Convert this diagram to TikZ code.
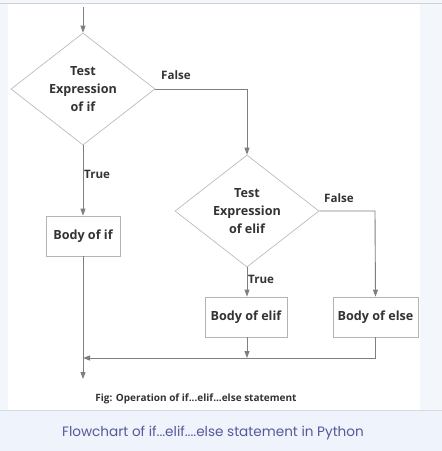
\documentclass[tikz,border=0pt]{standalone}
\usepackage{fontspec}
\setmainfont{Open Sans}
\newfontfamily\capfont{Poppins}
\usetikzlibrary{arrows.meta,shapes.geometric}
\definecolor{lineg}{HTML}{7F7F7F}
\definecolor{edgeg}{HTML}{B4B4B4}
\definecolor{textg}{HTML}{333333}
\definecolor{pageg}{HTML}{F3F6FB}
\definecolor{bandb}{HTML}{EEF3FC}
\definecolor{capc}{HTML}{55599A}
\tikzstyle{every node}=[text=textg,font=\fontsize{12.6}{18}\selectfont\bfseries]
\tikzstyle{test}=[draw=edgeg,line width=0.6pt,shape=diamond,aspect=1.286,minimum width=144pt,minimum height=112pt,inner sep=0pt,align=center]
\tikzstyle{body}=[draw=edgeg,line width=0.8pt,shape=rectangle,minimum height=40pt,inner sep=0pt]
\tikzstyle{flow}=[draw=lineg,line width=0.9pt]
\tikzstyle{tip}=[-{Triangle[length=7pt,width=5pt]}]
\tikzstyle{word}=[font=\fontsize{11.6}{13}\selectfont\bfseries,inner sep=0pt]

\begin{document}
\begin{tikzpicture}[x=1pt,y=-1pt]
	\useasboundingbox (0,0) rectangle (442,451);
	% page around the figure
	\fill[pageg] (0,0) rectangle (442,451);
	\fill[white] (8,3) rectangle (420,410);
	\fill[bandb] (0,410) rectangle (442,451);
	\draw[edgeg!60,line width=0.6pt] (0,3) -- (442,3);
	\draw[edgeg!50,line width=0.6pt] (0,410) -- (442,410);
	% shapes
	\coordinate (start) at (83,7);
	\node (t1) [test] at (83,89) {Test\\Expression\\of if};
	\node (t2) [test] at (247,211) {Test\\Expression\\of elif};
	\node (b1) [body,minimum width=74pt] at (83,236) {Body of if};
	\node (b2) [body,minimum width=82pt] at (246,317) {Body of elif};
	\node (b3) [body,minimum width=85pt] at (375.5,317) {Body of else};
	\coordinate (c1) at (247,89);
	\coordinate (c2) at (375,211);
	\coordinate (m1) at (83,358);
	\coordinate (m2) at (247,358);
	\coordinate (m3) at (375,358);
	\coordinate (stop) at (83,379);
	% connectors
	\draw[flow,tip] (start) -- (t1.north);
	\draw[flow,tip] (t1.east) -- (c1) -- (t2.north);
	\draw[flow,tip] (t1.south) -- (b1.north);
	\draw[flow,tip] (t2.east) -- (c2) -- (b3.north);
	\draw[flow,tip] (t2.south) -- (b2.north -| t2.south);
	\draw[flow,tip] (b1.south) -- (stop);
	\draw[flow,tip] (b2.south -| m2) -- (m2);
	\draw[flow,tip] (b3.south -| m3) -- (m3) -- (m1);
	% labels
	\node (f1) [word] at (176,75) {False};
	\node (r1) [word,anchor=west] at (84,174) {True};
	\node (f2) [word] at (339,198) {False};
	\node (r2) [word,anchor=west] at (248,279) {True};
	\node (fig) [font=\fontsize{10}{12}\selectfont\bfseries] at (196,399) {Fig: Operation of if...elif...else statement};
	\node (cap) [text=capc,font=\capfont\fontsize{13.6}{16}\selectfont] at (213,433) {Flowchart of if...elif....else statement in Python};
\end{tikzpicture}
\end{document}
